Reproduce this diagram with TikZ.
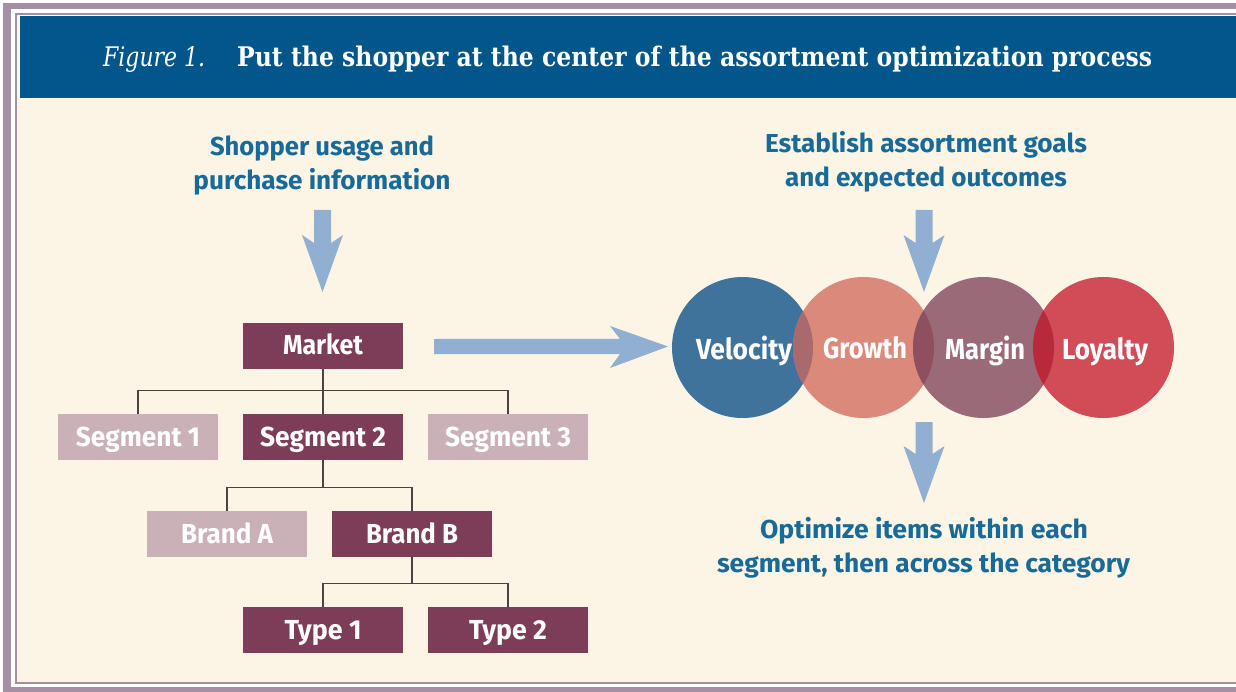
\documentclass[tikz,border=0pt]{standalone}
\usepackage{fontspec}
\usepackage{graphicx}
\setmainfont{Fira Sans}
\newfontfamily\labfont{Fira Sans}
\newfontfamily\ttlfont{DejaVu Serif}
\usetikzlibrary{calc}
\definecolor{lav}{HTML}{A48FA3}
\definecolor{cream}{HTML}{FCF5E6}
\definecolor{hdr}{HTML}{03568A}
\definecolor{tblue}{HTML}{186A98}
\definecolor{maroon}{HTML}{7D3C58}
\definecolor{mauve}{HTML}{C9B1B7}
\definecolor{arrc}{HTML}{90AFD1}
\definecolor{velc}{HTML}{3F739C}
\definecolor{groc}{HTML}{DB897B}
\definecolor{marc}{HTML}{9B6A78}
\definecolor{loyc}{HTML}{D14C56}
\definecolor{vgc}{HTML}{A96A6E}
\definecolor{gmc}{HTML}{8E4F5F}
\definecolor{mlc}{HTML}{B82A3B}
\definecolor{treec}{HTML}{4B4343}
\newcommand\fitw[2]{\resizebox{#1}{\height}{#2}}
\newcommand\dnarr[3]{\fill[arrc] (#1-8.5,#2) -- (#1+8.5,#2) -- (#1+8.5,#3-49) -- (#1+20.5,#3-57) -- (#1,#3) -- (#1-20.5,#3-57) -- (#1-8.5,#3-49) -- cycle;}
\begin{document}
\begin{tikzpicture}[x=1pt,y=-1pt,
  box/.style={rectangle, minimum width=160pt, minimum height=46pt, inner sep=0pt, text=white,
    font=\labfont\bfseries\fontsize{27.5}{30}\selectfont, text height=19pt, text depth=1pt},
  darkbox/.style={box, fill=maroon},
  lightbox/.style={box, fill=mauve},
  tree/.style={draw=treec, line width=1.3pt},
  circ/.style={circle, minimum size=141pt, inner sep=0pt},
  clab/.style={anchor=base, inner sep=0pt, text=white, font=\labfont\bfseries\fontsize{29}{32}\selectfont},
  hlab/.style={anchor=base, inner sep=0pt, text=tblue, font=\labfont\bfseries\fontsize{26}{30}\selectfont},
  ttl/.style={anchor=base west, inner sep=0pt, text=white}
]
\useasboundingbox (0,0) rectangle (1236,692);
% frame
\fill[white] (0,0) rectangle (1236,692);
\fill[lav] (3,3) rectangle (1236,692);
\fill[white] (11,9) rectangle (1236,687);
\fill[lav] (15,13) rectangle (1236,684);
\fill[white] (17,15) rectangle (1236,682);
\fill[cream] (17,98) rectangle (1236,682);
\fill[cream] (17,15) rectangle (20,682);
\fill[hdr] (20,16) rectangle (1236,98);
% title
\node[ttl, font=\ttlfont\itshape\fontsize{27}{30}\selectfont] (fig) at (103,67) {\fitw{102pt}{Figure 1.}};
\node[ttl, font=\ttlfont\bfseries\fontsize{27}{30}\selectfont] (title) at (237,67) {\fitw{915pt}{Put the shopper at the center of the assortment optimization process}};
% left header text
\node[hlab] (l1) at (322,156) {\fitw{224pt}{Shopper usage and}};
\node[hlab] (l2) at (322,190) {\fitw{257pt}{purchase information}};
% right header text
\node[hlab] (r1) at (926,153) {\fitw{322pt}{Establish assortment goals}};
\node[hlab] (r2) at (926,187) {\fitw{282pt}{and expected outcomes}};
% bottom right text
\node[hlab] (b1) at (924,538) {\fitw{328pt}{Optimize items within each}};
\node[hlab] (b2) at (923.5,572) {\fitw{413pt}{segment, then across the category}};
% arrows
\dnarr{322.5}{210}{292}
\dnarr{924}{210}{292}
\dnarr{924}{422}{503}
\fill[arrc] (434,339) -- (620,339) -- (610,326) -- (668,346.5) -- (610,368) -- (620,354) -- (434,354) -- cycle;
% tree
\node[darkbox] (market) at (323,346) {\fitw{80pt}{Market}};
\node[lightbox] (seg1) at (138,437) {\fitw{124pt}{Segment 1}};
\node[darkbox] (seg2) at (323,437) {\fitw{126pt}{Segment 2}};
\node[lightbox] (seg3) at (508,437) {\fitw{126pt}{Segment 3}};
\node[lightbox] (brandA) at (227,534) {\fitw{92pt}{Brand A}};
\node[darkbox] (brandB) at (412,534) {\fitw{92pt}{Brand B}};
\node[darkbox] (type1) at (323,630) {\fitw{77pt}{Type 1}};
\node[darkbox] (type2) at (508,630) {\fitw{78pt}{Type 2}};
\draw[tree] (market.south) -- (seg2.north);
\draw[tree] (seg1.north) -- ++(0,-23) coordinate (js) -| (seg3.north);
\draw[tree] (brandA.north) -- ++(0,-23) coordinate (jb) -| (brandB.north);
\draw[tree] (seg2.south) -- (seg2.south |- jb);
\draw[tree] (type1.north) -- ++(0,-23) coordinate (jt) -| (type2.north);
\draw[tree] (brandB.south) -- (brandB.south |- jt);
% circles
\node[circ, fill=velc] (vel) at (742.5,347.5) {};
\node[circ, fill=groc] (gro) at (863.5,347.5) {};
\node[circ, fill=marc] (mar) at (983.5,347.5) {};
\node[circ, fill=loyc] (loy) at (1103.5,347.5) {};
\begin{scope}
  \clip (vel.center) circle (70.5pt);
  \fill[vgc] (gro.center) circle (70.5pt);
\end{scope}
\begin{scope}
  \clip (gro.center) circle (70.5pt);
  \fill[gmc] (mar.center) circle (70.5pt);
\end{scope}
\begin{scope}
  \clip (mar.center) circle (70.5pt);
  \fill[mlc] (loy.center) circle (70.5pt);
\end{scope}
\node[clab] (velt) at ($(vel.center)+(1.5,11.5)$) {\fitw{96pt}{Velocity}};
\node[clab] (grot) at ($(gro.center)+(1.5,11.5)$) {\fitw{84pt}{Growth}};
\node[clab] (mart) at ($(mar.center)+(1.5,11.5)$) {\fitw{80pt}{Margin}};
\node[clab] (loyt) at ($(loy.center)+(1.5,11.5)$) {\fitw{86pt}{Loyalty}};
\end{tikzpicture}
\end{document}
